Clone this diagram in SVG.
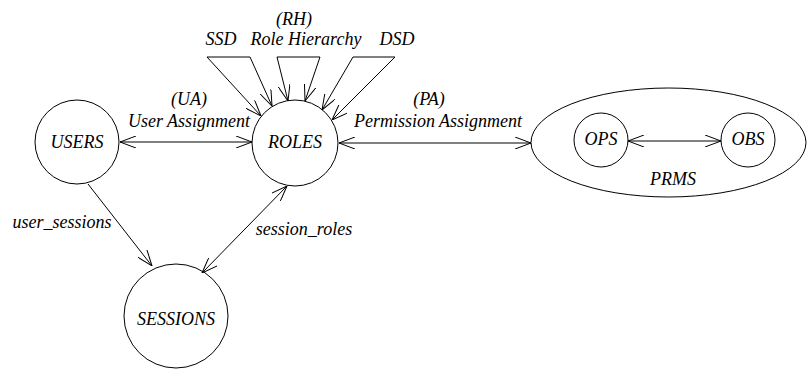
<svg xmlns="http://www.w3.org/2000/svg" width="812" height="369" viewBox="0 0 812 369">
  <style>
    .shape { fill: none; stroke: #000; stroke-width: 1; }
    .edge { fill: none; stroke: #000; stroke-width: 1; }
    text { font-family: "Liberation Serif", "Times New Roman", serif; font-style: italic; font-size: 18px; fill: #000; text-anchor: middle; }
  </style>
  <defs>
    <marker id="open-arrow" viewBox="0 0 16 12" refX="16" refY="6" markerWidth="16" markerHeight="12" markerUnits="userSpaceOnUse" orient="auto-start-reverse">
      <path d="M0,0 L16,6 L0,12" fill="none" stroke="#000" stroke-width="1"/>
    </marker>
  </defs>
  <rect width="812" height="369" fill="#fff"/>

  <!-- nodes -->
  <g id="users">
    <circle class="shape" cx="77" cy="142" r="42"/>
    <text x="77" y="148">USERS</text>
  </g>
  <g id="roles">
    <circle class="shape" cx="295" cy="143" r="43"/>
    <text x="295" y="148">ROLES</text>
  </g>
  <g id="sessions">
    <circle class="shape" cx="176" cy="316" r="52"/>
    <text x="176" y="325">SESSIONS</text>
  </g>
  <g id="prms">
    <ellipse class="shape" cx="668.500" cy="142.500" rx="137.500" ry="54.500"/>
    <text x="673" y="185">PRMS</text>
  </g>
  <g id="ops">
    <circle class="shape" cx="601" cy="140" r="27"/>
    <text x="601" y="145">OPS</text>
  </g>
  <g id="obs">
    <circle class="shape" cx="748" cy="140" r="27"/>
    <text x="748" y="145">OBS</text>
  </g>

  <!-- connectors -->
  <g id="connectors">
    <!-- user assignment -->
    <line class="edge" x1="120" y1="142" x2="252" y2="142" marker-start="url(#open-arrow)" marker-end="url(#open-arrow)"/>
    <!-- permission assignment -->
    <line class="edge" x1="339" y1="143" x2="531" y2="143" marker-start="url(#open-arrow)" marker-end="url(#open-arrow)"/>
    <!-- ops / obs -->
    <line class="edge" x1="628" y1="141" x2="721" y2="141" marker-start="url(#open-arrow)" marker-end="url(#open-arrow)"/>
    <!-- user_sessions -->
    <line class="edge" x1="88" y1="184" x2="152" y2="266" marker-end="url(#open-arrow)"/>
    <!-- session_roles -->
    <line class="edge" x1="287" y1="186" x2="202" y2="273" marker-start="url(#open-arrow)" marker-end="url(#open-arrow)"/>
    <!-- SSD -->
    <line class="edge" x1="207" y1="57" x2="250" y2="57"/>
    <line class="edge" x1="207" y1="57" x2="261" y2="116" marker-end="url(#open-arrow)"/>
    <line class="edge" x1="250" y1="57" x2="272" y2="106" marker-end="url(#open-arrow)"/>
    <!-- role hierarchy -->
    <line class="edge" x1="277" y1="57" x2="320" y2="57"/>
    <line class="edge" x1="277" y1="57" x2="288" y2="101" marker-end="url(#open-arrow)"/>
    <line class="edge" x1="320" y1="57" x2="305" y2="101" marker-end="url(#open-arrow)"/>
    <!-- DSD -->
    <line class="edge" x1="353" y1="57" x2="395" y2="57"/>
    <line class="edge" x1="353" y1="57" x2="322" y2="110" marker-end="url(#open-arrow)"/>
    <line class="edge" x1="395" y1="57" x2="332" y2="120" marker-end="url(#open-arrow)"/>
  </g>

  <!-- labels -->
  <g id="labels">
    <text x="189" y="105">(UA)</text>
    <text x="189" y="127">User Assignment</text>
    <text x="429" y="105">(PA)</text>
    <text x="438" y="127">Permission Assignment</text>
    <text x="294" y="25">(RH)</text>
    <text x="221" y="45">SSD</text>
    <text x="306" y="45">Role Hierarchy</text>
    <text x="397" y="45">DSD</text>
    <text x="62" y="228">user_sessions</text>
    <text x="304" y="235">session_roles</text>
  </g>
</svg>
